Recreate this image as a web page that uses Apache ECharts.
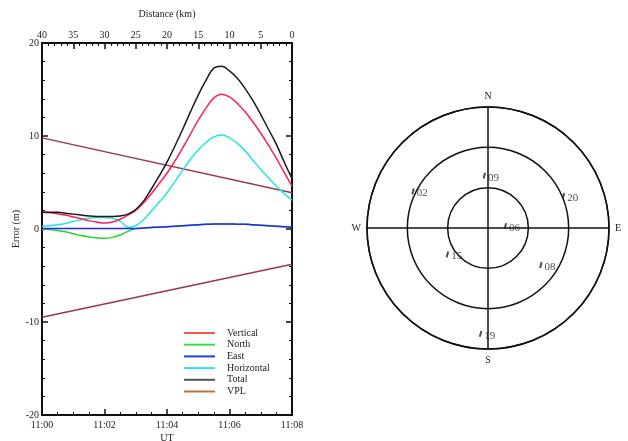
<!DOCTYPE html>
<html>
<head>
<meta charset="utf-8">
<script src="https://cdn.jsdelivr.net/npm/echarts@6/dist/echarts.min.js"></script>
<style>
  html, body { margin: 0; padding: 0; background: #fff; }
  #main { width: 628px; height: 441px; }
</style>
</head>
<body>
<div id="main"></div>
<script>
// time in minutes after 11:00
var minutes = [0, 0.25, 0.5, 0.75, 1, 1.25, 1.5, 1.75, 2, 2.25, 2.5, 2.75, 3, 3.25, 3.5, 3.75,
  4, 4.25, 4.5, 4.75, 5, 5.25, 5.5, 5.75, 6, 6.25, 6.5, 6.75, 7, 7.25, 7.5, 7.75, 8];

var verticalErr = [1.8, 1.75, 1.65, 1.5, 1.3, 1.1, 0.9, 0.75, 0.65, 0.75, 1.05, 1.5, 2.0, 2.8, 3.8, 4.9,
  6.0, 7.3, 8.7, 10.2, 11.7, 13.0, 14.1, 14.5, 14.2, 13.5, 12.6, 11.5, 10.3, 9.0, 7.6, 6.1, 4.6];
var northErr = [0, -0.05, -0.15, -0.3, -0.5, -0.7, -0.85, -0.95, -1.0, -0.9, -0.65, -0.25, 0.05, 0.1, 0.15, 0.2,
  0.25, 0.3, 0.35, 0.4, 0.45, 0.5, 0.55, 0.55, 0.55, 0.5, 0.5, 0.45, 0.4, 0.35, 0.3, 0.25, 0.2];
var eastErr = [0.05, 0.05, 0.05, 0.05, 0.05, 0.05, 0.05, 0.05, 0.05, 0.05, 0.05, 0.05, 0.05, 0.1, 0.15, 0.2,
  0.25, 0.3, 0.35, 0.4, 0.45, 0.5, 0.55, 0.55, 0.55, 0.5, 0.5, 0.45, 0.4, 0.35, 0.3, 0.25, 0.2];
var horizontalErr = [0.3, 0.35, 0.45, 0.6, 0.8, 1.0, 1.15, 1.25, 1.25, 1.15, 0.85, 0.2, 0.35, 1.0, 1.9, 2.9,
  3.9, 5.1, 6.3, 7.5, 8.5, 9.3, 9.9, 10.1, 9.8, 9.2, 8.4, 7.4, 6.4, 5.5, 4.6, 3.8, 3.1];
var totalErr = [1.8, 1.8, 1.8, 1.7, 1.6, 1.5, 1.4, 1.35, 1.35, 1.35, 1.4, 1.6, 2.1, 3.0, 4.3, 5.7,
  7.2, 8.9, 10.7, 12.6, 14.4, 16.0, 17.3, 17.5, 17.0, 16.2, 15.1, 13.8, 12.3, 10.7, 9.1, 7.2, 5.4];
var vplUpper = [[0, 9.8], [8, 3.9]];
var vplLower = [[0, -9.5], [8, -3.8]];

var timeLabels = ['11:00', '11:02', '11:04', '11:06', '11:08'];

// sky plot
var satIds = ['09', '02', '20', '06', '15', '08', '19'];
var satAzimuth = [356, 296, 67, 84, 237, 125, 184];
var satElevation = [51, 28, 29, 77, 54, 42, 11];
var compass = ['N', 'E', 'S', 'W', ''];

var FONT = 'Liberation Serif';

var pairs = function(vals){
  var out = [];
  for (var i = 0; i < minutes.length; i++) out.push([minutes[i], vals[i]]);
  return out;
};

var skyData = [];
for (var i = 0; i < satIds.length; i++) {
  skyData.push({ name: satIds[i], value: [90 - satElevation[i], satAzimuth[i]] });
}

var axisCommon = {
  axisLine: { onZero: false, lineStyle: { color: '#111', width: 2 } },
  axisTick: { inside: true, length: 6, lineStyle: { color: '#111', width: 1.5 } },
  minorTick: { show: true, length: 3, lineStyle: { color: '#111', width: 1 } },
  splitLine: { show: false },
  axisLabel: { fontFamily: FONT, fontSize: 10, color: '#222', margin: 3 },
  nameTextStyle: { fontFamily: FONT, fontSize: 10, color: '#222' }
};
var mk = function(extra){
  var o = JSON.parse(JSON.stringify(axisCommon));
  for (var k in extra) {
    if (typeof extra[k] === 'object' && o[k] && !Array.isArray(extra[k])) {
      for (var j in extra[k]) o[k][j] = extra[k][j];
    } else o[k] = extra[k];
  }
  return o;
};

var lineSeries = function(name, data, color){
  return {
    name: name, type: 'line', data: data, smooth: 0.4, symbol: 'none',
    xAxisIndex: 0, yAxisIndex: 0,
    lineStyle: { color: color, width: 1.5 }, itemStyle: { color: color },
    animation: false
  };
};

var legendItem = function(name, color){
  return { name: name, itemStyle: { color: color } };
};

var chart = echarts.init(document.getElementById('main'));
chart.setOption({
  backgroundColor: '#fff',
  animation: false,
  grid: { left: 42, right: 336, top: 43, bottom: 26, show: false, outerBoundsMode: 'none', containLabel: false },
  legend: {
    orient: 'vertical', left: 184, top: 328, padding: 0,
    icon: 'rect', itemWidth: 31, itemHeight: 2, itemGap: 1.7,
    textStyle: { fontFamily: FONT, fontSize: 10, lineHeight: 10, color: '#222', padding: [0, 0, 0, 7] },
    data: [
      legendItem('Vertical', '#f05a4a'),
      legendItem('North', '#3ee03e'),
      legendItem('East', '#2040f0'),
      legendItem('Horizontal', '#30e0f0'),
      legendItem('Total', '#555'),
      legendItem('VPL', '#c0703a')
    ],
    selectedMode: false
  },
  xAxis: [
    mk({
      type: 'value', position: 'bottom', min: 0, max: 8, interval: 2,
      minorTick: { splitNumber: 4 },
      axisLabel: { margin: 5, formatter: function(v){ return timeLabels[Math.round(v / 2)]; } },
      name: 'UT', nameLocation: 'middle', nameGap: 18, nameMoveOverlap: false
    }),
    mk({
      type: 'value', position: 'top', min: 0, max: 40, interval: 5, inverse: true,
      minorTick: { splitNumber: 5 },
      name: 'Distance (km)', nameLocation: 'middle', nameGap: 24
    })
  ],
  yAxis: [
    mk({
      type: 'value', position: 'left', min: -20, max: 20, interval: 10,
      minorTick: { splitNumber: 5 },
      name: 'Error (m)', nameLocation: 'middle', nameGap: 21, nameRotate: 90
    }),
    mk({
      type: 'value', position: 'right', min: -20, max: 20, interval: 10,
      minorTick: { splitNumber: 5 },
      axisLabel: { show: false }
    })
  ],
  polar: { center: [488, 228], radius: 121 },
  angleAxis: {
    type: 'value', min: 0, max: 360, interval: 90, startAngle: 90, clockwise: true,
    axisLine: { lineStyle: { color: '#111', width: 1.5 } },
    axisTick: { show: false },
    splitLine: { show: true, lineStyle: { color: '#111', width: 1.5 } },
    axisLabel: {
      fontFamily: FONT, fontSize: 10, color: '#222', margin: 6,
      formatter: function(v){ return compass[Math.round(v / 90)]; }
    }
  },
  radiusAxis: {
    type: 'value', min: 0, max: 90, interval: 30,
    axisLine: { show: false }, axisTick: { show: false }, axisLabel: { show: false },
    splitLine: { show: true, lineStyle: { color: '#111', width: 1.5 } }
  },
  series: [
    lineSeries('VPL', vplUpper, '#9c3452'),
    lineSeries('VPL', vplLower, '#9c3452'),
    lineSeries('Horizontal', pairs(horizontalErr), '#22e8dc'),
    lineSeries('North', pairs(northErr), '#22d622'),
    lineSeries('East', pairs(eastErr), '#2424ff'),
    lineSeries('Vertical', pairs(verticalErr), '#ff1f55'),
    lineSeries('Total', pairs(totalErr), '#1a1a1a'),
    {
      type: 'scatter', coordinateSystem: 'polar', data: skyData,
      symbol: 'rect', symbolSize: [2, 6], symbolRotate: -15,
      itemStyle: { color: '#222' },
      label: {
        show: true, position: 'right', distance: 2, offset: [0, 2],
        formatter: '{b}', fontFamily: FONT, fontSize: 11, color: '#222'
      },
      animation: false
    }
  ]
});
</script>
</body>
</html>
